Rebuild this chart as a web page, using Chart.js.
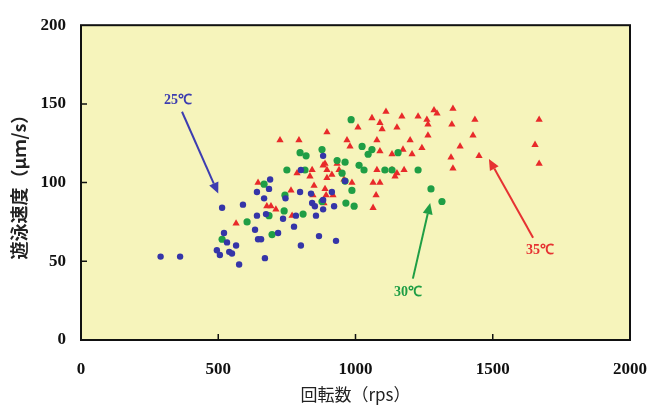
<!DOCTYPE html>
<html>
<head>
<meta charset="utf-8">
<script src="https://cdn.jsdelivr.net/npm/chart.js@4"></script>
<style>
  html, body { margin: 0; padding: 0; background: #ffffff; }
  #wrap { width: 647px; height: 407px; }
</style>
</head>
<body>
<div id="wrap"><canvas id="chart" width="647" height="407"></canvas></div>
<script>
// 軸
const xTicks = [0, 500, 1000, 1500, 2000];
const yTicks = [0, 50, 100, 150, 200];
const xTitle = '回転数（rps）';
const yTitle = '遊泳速度（μｍ/s）';

// 25℃
const rps25 = [290, 361, 514, 590, 689, 685, 641, 667, 641, 674, 736, 634, 521, 532, 565, 495, 506, 540, 550, 645,
    656, 718, 670, 576, 882, 801, 745, 798, 838, 842, 852, 882, 914, 922, 882, 962, 783, 776, 856, 867, 929, 801];
const speed25 = [53, 53, 84, 86, 102, 96, 94, 90, 79, 80, 77, 70, 68, 62, 60, 57, 54, 56, 55, 64,
    64, 68, 52, 48, 117, 108, 90, 94, 93, 87, 85, 89, 94, 85, 83, 101, 79, 72, 79, 66, 63, 60];

// 30℃
const rps30 = [750, 816, 667, 743, 740, 685, 605, 696, 514, 809, 878, 984, 878, 798, 820, 1024, 1046, 1060, 933, 962,
    1013, 1031, 951, 962, 987, 965, 995, 1107, 1133, 1155, 1228, 1275, 1315];
const speed30 = [108, 108, 99, 92, 82, 79, 75, 67, 64, 80, 88, 140, 121, 119, 117, 123, 118, 121, 114, 113,
    111, 108, 106, 101, 95, 87, 85, 108, 108, 119, 108, 96, 88];

// 35℃
const rps35 = [645, 677, 692, 710, 565, 787, 834, 842, 882, 896, 849, 765, 889, 845, 893, 885, 769, 914, 896, 794,
    725, 969, 980, 889, 933, 940, 896, 918, 987, 958, 1064, 1089, 1075, 1064, 1078, 1089, 1133, 1133, 1151, 1078,
    1177, 1199, 1242, 1206, 1060, 1089, 1097, 1111, 1169, 1151, 1009, 1228, 1260, 1264, 1264, 1297, 1286, 1355, 1351, 1435,
    1428, 1381, 1348, 1450, 1355, 1669, 1654, 1669, 1173, 1144];
const speed35 = [100, 85, 85, 83, 74, 106, 104, 108, 111, 108, 98, 95, 96, 92, 92, 87, 79, 105, 132, 127,
    127, 127, 123, 112, 112, 108, 103, 92, 100, 102, 100, 100, 92, 84, 127, 120, 118, 108, 106, 108,
    108, 127, 122, 118, 141, 138, 134, 145, 142, 135, 135, 142, 140, 137, 130, 144, 146, 147, 137, 140,
    130, 123, 116, 117, 109, 140, 124, 112, 121, 104];

// 注記（ラベル位置と矢印: データ座標）
const notes = [
    { text: '25℃', color: '#3d3db0', label: [353, 152], from: [368, 145], to: [500, 93] },
    { text: '30℃', color: '#1f9e45', label: [1191, 30], from: [1209, 39], to: [1272, 87] },
    { text: '35℃', color: '#e63232', label: [1672, 57], from: [1647, 65], to: [1486, 115] }
];

function toPoints(xs, ys) {
    return xs.map((x, i) => ({ x: x, y: ys[i] }));
}

const frame = {
    id: 'frame',
    beforeDatasetsDraw(chart) {
        const { ctx, chartArea: a } = chart;
        ctx.save();
        ctx.fillStyle = '#f6f4bb';
        ctx.fillRect(a.left, a.top, a.right - a.left, a.bottom - a.top);
        ctx.restore();
    },
    afterDatasetsDraw(chart) {
        const { ctx, chartArea: a, scales } = chart;
        ctx.save();
        // 枠
        ctx.strokeStyle = '#111';
        ctx.lineWidth = 2;
        ctx.strokeRect(a.left, a.top, a.right - a.left, a.bottom - a.top);
        // 内向き目盛
        ctx.lineWidth = 1.5;
        ctx.beginPath();
        xTicks.slice(1, -1).forEach(v => {
            const px = scales.x.getPixelForValue(v);
            ctx.moveTo(px, a.bottom);
            ctx.lineTo(px, a.bottom - 6);
        });
        yTicks.slice(1, -1).forEach(v => {
            const py = scales.y.getPixelForValue(v);
            ctx.moveTo(a.left, py);
            ctx.lineTo(a.left + 6, py);
        });
        ctx.stroke();
        // 矢印とラベル
        notes.forEach(n => {
            const x1 = scales.x.getPixelForValue(n.from[0]), y1 = scales.y.getPixelForValue(n.from[1]);
            const x2 = scales.x.getPixelForValue(n.to[0]), y2 = scales.y.getPixelForValue(n.to[1]);
            const ang = Math.atan2(y2 - y1, x2 - x1);
            const hl = 11, hw = 5;
            const bx = x2 - hl * Math.cos(ang), by = y2 - hl * Math.sin(ang);
            ctx.strokeStyle = n.color;
            ctx.fillStyle = n.color;
            ctx.lineWidth = 2;
            ctx.beginPath();
            ctx.moveTo(x1, y1);
            ctx.lineTo(bx, by);
            ctx.stroke();
            ctx.beginPath();
            ctx.moveTo(x2, y2);
            ctx.lineTo(bx + hw * Math.sin(ang), by - hw * Math.cos(ang));
            ctx.lineTo(bx - hw * Math.sin(ang), by + hw * Math.cos(ang));
            ctx.closePath();
            ctx.fill();
            ctx.font = 'bold 14px "Liberation Serif"';
            ctx.textAlign = 'center';
            ctx.textBaseline = 'middle';
            ctx.fillText(n.text, scales.x.getPixelForValue(n.label[0]), scales.y.getPixelForValue(n.label[1]));
        });
        ctx.restore();
    }
};

new Chart(document.getElementById('chart'), {
    type: 'scatter',
    data: {
        datasets: [
            { label: '25℃', data: toPoints(rps25, speed25), pointStyle: 'circle', pointRadius: 3.2,
              backgroundColor: '#3535a8', borderColor: '#3535a8', borderWidth: 0 },
            { label: '30℃', data: toPoints(rps30, speed30), pointStyle: 'circle', pointRadius: 3.6,
              backgroundColor: '#1f9e45', borderColor: '#1f9e45', borderWidth: 0 },
            { label: '35℃', data: toPoints(rps35, speed35), pointStyle: 'triangle', pointRadius: 4.2,
              backgroundColor: '#e82a2a', borderColor: '#e82a2a', borderWidth: 0 }
        ]
    },
    options: {
        responsive: false,
        animation: false,
        layout: { padding: { top: 22, right: 17, left: 0, bottom: 0 } },
        plugins: { legend: { display: false }, tooltip: { enabled: false } },
        scales: {
            x: {
                type: 'linear', min: 0, max: 2000,
                afterBuildTicks: s => { s.ticks = xTicks.map(v => ({ value: v })); },
                afterFit: s => { s.height = 67; s.paddingLeft = 0; s.paddingRight = 0; },
                grid: { display: false, drawTicks: false },
                border: { display: false },
                ticks: { padding: 19, color: '#111', maxRotation: 0, callback: v => String(v),
                         font: { family: '"Liberation Serif"', weight: 'bold', size: 17 } },
                title: { display: true, text: xTitle, color: '#222', padding: { top: 0, bottom: 2 },
                         font: { family: '"Noto Sans CJK JP"', size: 17 } }
            },
            y: {
                type: 'linear', min: 0, max: 200,
                afterBuildTicks: s => { s.ticks = yTicks.map(v => ({ value: v })); },
                afterFit: s => { s.width = 81; },
                grid: { display: false, drawTicks: false },
                border: { display: false },
                ticks: { padding: 15, color: '#111', callback: v => String(v),
                         font: { family: '"Liberation Serif"', weight: 'bold', size: 17 } },
                title: { display: true, text: yTitle, color: '#222', padding: { top: 8, bottom: 0 },
                         font: { family: '"Noto Sans CJK JP"', weight: 'bold', size: 18 } }
            }
        }
    },
    plugins: [frame]
});
</script>
</body>
</html>
